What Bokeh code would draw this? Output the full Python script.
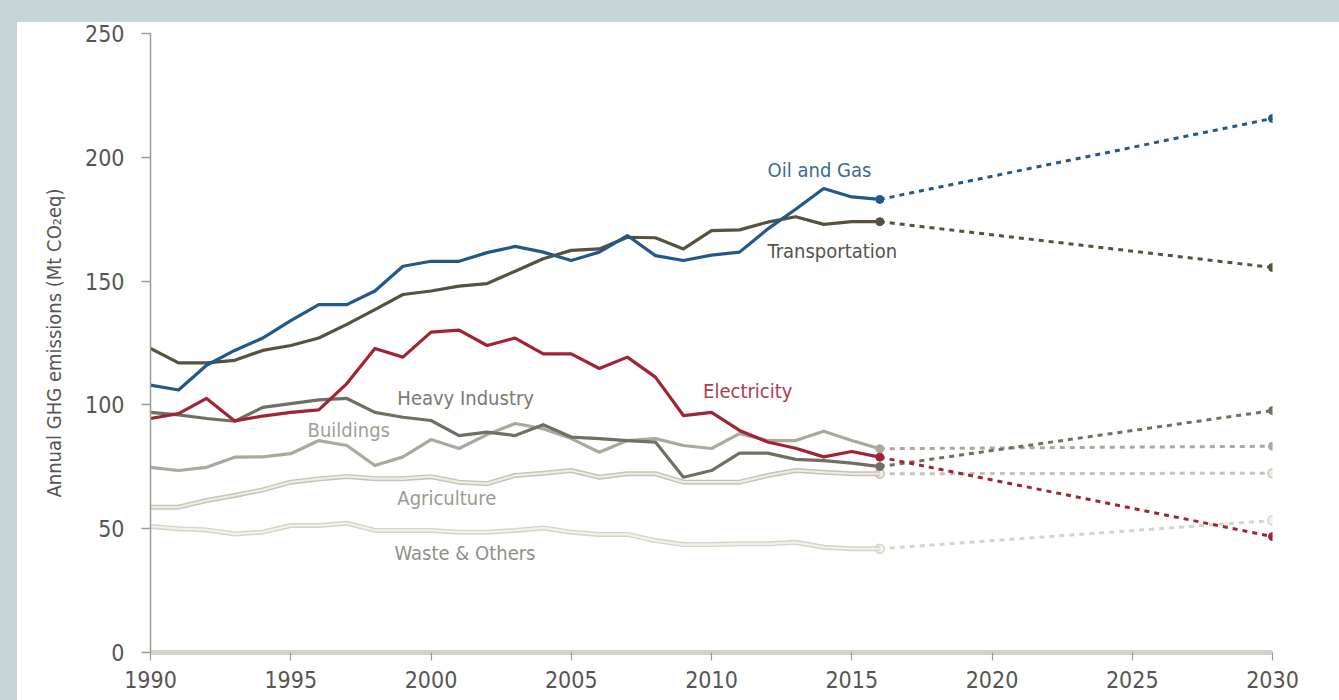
from bokeh.plotting import figure
from bokeh.embed import file_html
from bokeh.resources import INLINE
from bokeh.core.properties import value
from bokeh.models import FixedTicker, Range1d

FONT = "DejaVu Sans Condensed, sans-serif"

years = list(range(1990, 2017))
proj_years = [2016, 2030]

oil_gas = [108, 106, 116, 122, 127, 134, 140.5, 140.5, 146, 156, 158, 158, 161.5, 164,
           161.7, 158.3, 161.7, 168.4, 160.3, 158.3, 160.5, 161.7, 171, 179, 187.4, 184, 183]
transportation = [122.8, 117, 117, 118, 122, 124, 127, 132.5, 138.5, 144.6, 146, 148, 149, 154,
                  159, 162.4, 163, 167.7, 167.5, 163, 170.4, 170.7, 173.8, 176, 172.9, 174, 174]
electricity = [94.5, 96.5, 102.6, 93.5, 95.5, 97, 98, 108.6, 122.8, 119.3, 129.4, 130.2, 124, 127,
               120.6, 120.6, 114.7, 119.3, 111.2, 95.7, 97, 89.7, 85, 82.5, 79, 81.2, 78.9]
heavy_industry = [97, 96, 94.5, 93.4, 99, 100.5, 102, 102.6, 97, 95, 93.7, 87.6, 89, 87.6,
                  92, 87, 86.4, 85.6, 85, 70.8, 73.5, 80.5, 80.5, 78, 77.5, 76.5, 75.1]
buildings = [74.8, 73.5, 74.8, 78.9, 79, 80.3, 85.6, 83.6, 75.5, 79, 86, 82.4, 88, 92.5,
             90.4, 86.4, 80.9, 85.6, 86.4, 83.6, 82.4, 88.4, 85.6, 85.6, 89.4, 85.6, 82.3]
agriculture = [58.7, 58.7, 61.4, 63.4, 65.7, 68.8, 70.1, 71.1, 70.2, 70.2, 71, 68.8, 68.2, 71.5,
               72.4, 73.5, 70.8, 72.2, 72.2, 68.8, 68.8, 68.8, 71.5, 73.5, 72.8, 72.2, 72.2]
waste_others = [50.9, 50, 49.5, 47.9, 48.6, 51.3, 51.3, 52.2, 49.3, 49.3, 49.3, 48.6, 48.6, 49.3,
                50.3, 48.6, 47.7, 47.7, 45.2, 43.6, 43.6, 43.9, 43.9, 44.5, 42.5, 41.9, 41.9]

proj_2030 = {
    "Oil and Gas": 215.7,
    "Transportation": 155.5,
    "Heavy Industry": 97.7,
    "Buildings": 83.3,
    "Agriculture": 72.4,
    "Waste & Others": 53.3,
    "Electricity": 46.8,
}

series_names = ["Waste & Others", "Agriculture", "Buildings", "Heavy Industry",
                "Electricity", "Transportation", "Oil and Gas"]
series_values = {
    "Oil and Gas": oil_gas,
    "Transportation": transportation,
    "Electricity": electricity,
    "Heavy Industry": heavy_industry,
    "Buildings": buildings,
    "Agriculture": agriculture,
    "Waste & Others": waste_others,
}
line_colors = {
    "Oil and Gas": "#22588a",
    "Transportation": "#57523f",
    "Electricity": "#a02434",
    "Heavy Industry": "#707062",
    "Buildings": "#a9a99d",
    "Agriculture": "#eeece3",
    "Waste & Others": "#f3f1ea",
}
outline_colors = {
    "Agriculture": "#c6c4b8",
    "Waste & Others": "#d6d4ca",
}
label_colors = {
    "Oil and Gas": "#3d6a96",
    "Transportation": "#55554d",
    "Electricity": "#a8404f",
    "Heavy Industry": "#7a7a70",
    "Buildings": "#a0a098",
    "Agriculture": "#9a9a92",
    "Waste & Others": "#909089",
}
label_x = {
    "Oil and Gas": 2012.0,
    "Transportation": 2012.0,
    "Electricity": 2009.7,
    "Heavy Industry": 1998.8,
    "Buildings": 1995.6,
    "Agriculture": 1998.8,
    "Waste & Others": 1998.7,
}
label_y = {
    "Oil and Gas": 194.7,
    "Transportation": 162.0,
    "Electricity": 105.8,
    "Heavy Industry": 102.6,
    "Buildings": 90.0,
    "Agriculture": 62.2,
    "Waste & Others": 40.0,
}

y_ticks = [0, 50, 100, 150, 200, 250]
x_ticks = [1990, 1995, 2000, 2005, 2010, 2015, 2020, 2025, 2030]

p = figure(width=1339, height=700, output_backend="svg", toolbar_location=None,
           x_range=Range1d(1990, 2030), y_range=Range1d(0, 250),
           min_border_left=150, min_border_right=67, min_border_top=33, min_border_bottom=48)
p.border_fill_alpha = 0
p.background_fill_color = "white"
p.outline_line_color = None
p.grid.visible = False
p.styles = {"background-color": "white",
            "box-shadow": "inset 17px 22px 0 0 #c6d5d8"}

# projections (dotted)
for name in series_names:
    last = series_values[name][-1]
    ys = [last, proj_2030[name]]
    if name in outline_colors:
        p.line(proj_years, ys, line_color=outline_colors[name], line_width=3, line_dash="5 5")
        p.scatter(proj_years, ys, size=9, fill_color=line_colors[name],
                  line_color=outline_colors[name], line_width=1.5)
    else:
        p.line(proj_years, ys, line_color=line_colors[name], line_width=3, line_dash="5 5")
        p.scatter(proj_years, ys, size=8, fill_color=line_colors[name], line_color=line_colors[name])

# historical lines
for name in series_names:
    ys = series_values[name]
    if name in outline_colors:
        p.line(years, ys, line_color=outline_colors[name], line_width=5, line_join="round")
        p.line(years, ys, line_color=line_colors[name], line_width=2.2, line_join="round")
    else:
        p.line(years, ys, line_color=line_colors[name], line_width=3.2, line_join="round")

# series labels
for name in series_names:
    p.text([label_x[name]], [label_y[name]], text=[name], text_color=label_colors[name],
           text_font=value(FONT), text_font_size="20px", text_baseline="middle", text_align="left")

# axes
p.yaxis.ticker = FixedTicker(ticks=y_ticks)
p.xaxis.ticker = FixedTicker(ticks=x_ticks)
p.yaxis.minor_tick_line_color = None
p.xaxis.minor_tick_line_color = None
p.yaxis.axis_line_color = "#9a9a96"
p.yaxis.axis_line_width = 1.5
p.yaxis.major_tick_line_color = "#9a9a96"
p.yaxis.major_tick_line_width = 1.5
p.yaxis.major_tick_in = 0
p.yaxis.major_tick_out = 9
p.yaxis.major_label_standoff = 17
p.yaxis.major_label_text_font = FONT
p.yaxis.major_label_text_font_size = "23px"
p.yaxis.major_label_text_color = "#555555"
p.yaxis.axis_label = "Annual GHG emissions (Mt CO\u2082eq)"
p.yaxis.axis_label_text_font = FONT
p.yaxis.axis_label_text_font_size = "20px"
p.yaxis.axis_label_text_font_style = "normal"
p.yaxis.axis_label_text_color = "#555555"
p.yaxis.axis_label_standoff = 16

p.xaxis.axis_line_color = "#d3d2cb"
p.xaxis.axis_line_width = 5
p.xaxis.major_tick_line_color = "#9a9a96"
p.xaxis.major_tick_line_width = 1.2
p.xaxis.major_tick_in = 0
p.xaxis.major_tick_out = 8
p.xaxis.major_label_standoff = 10
p.xaxis.major_label_text_font = FONT
p.xaxis.major_label_text_font_size = "23px"
p.xaxis.major_label_text_color = "#555555"

open("out.html", "w").write(file_html(p, INLINE))
